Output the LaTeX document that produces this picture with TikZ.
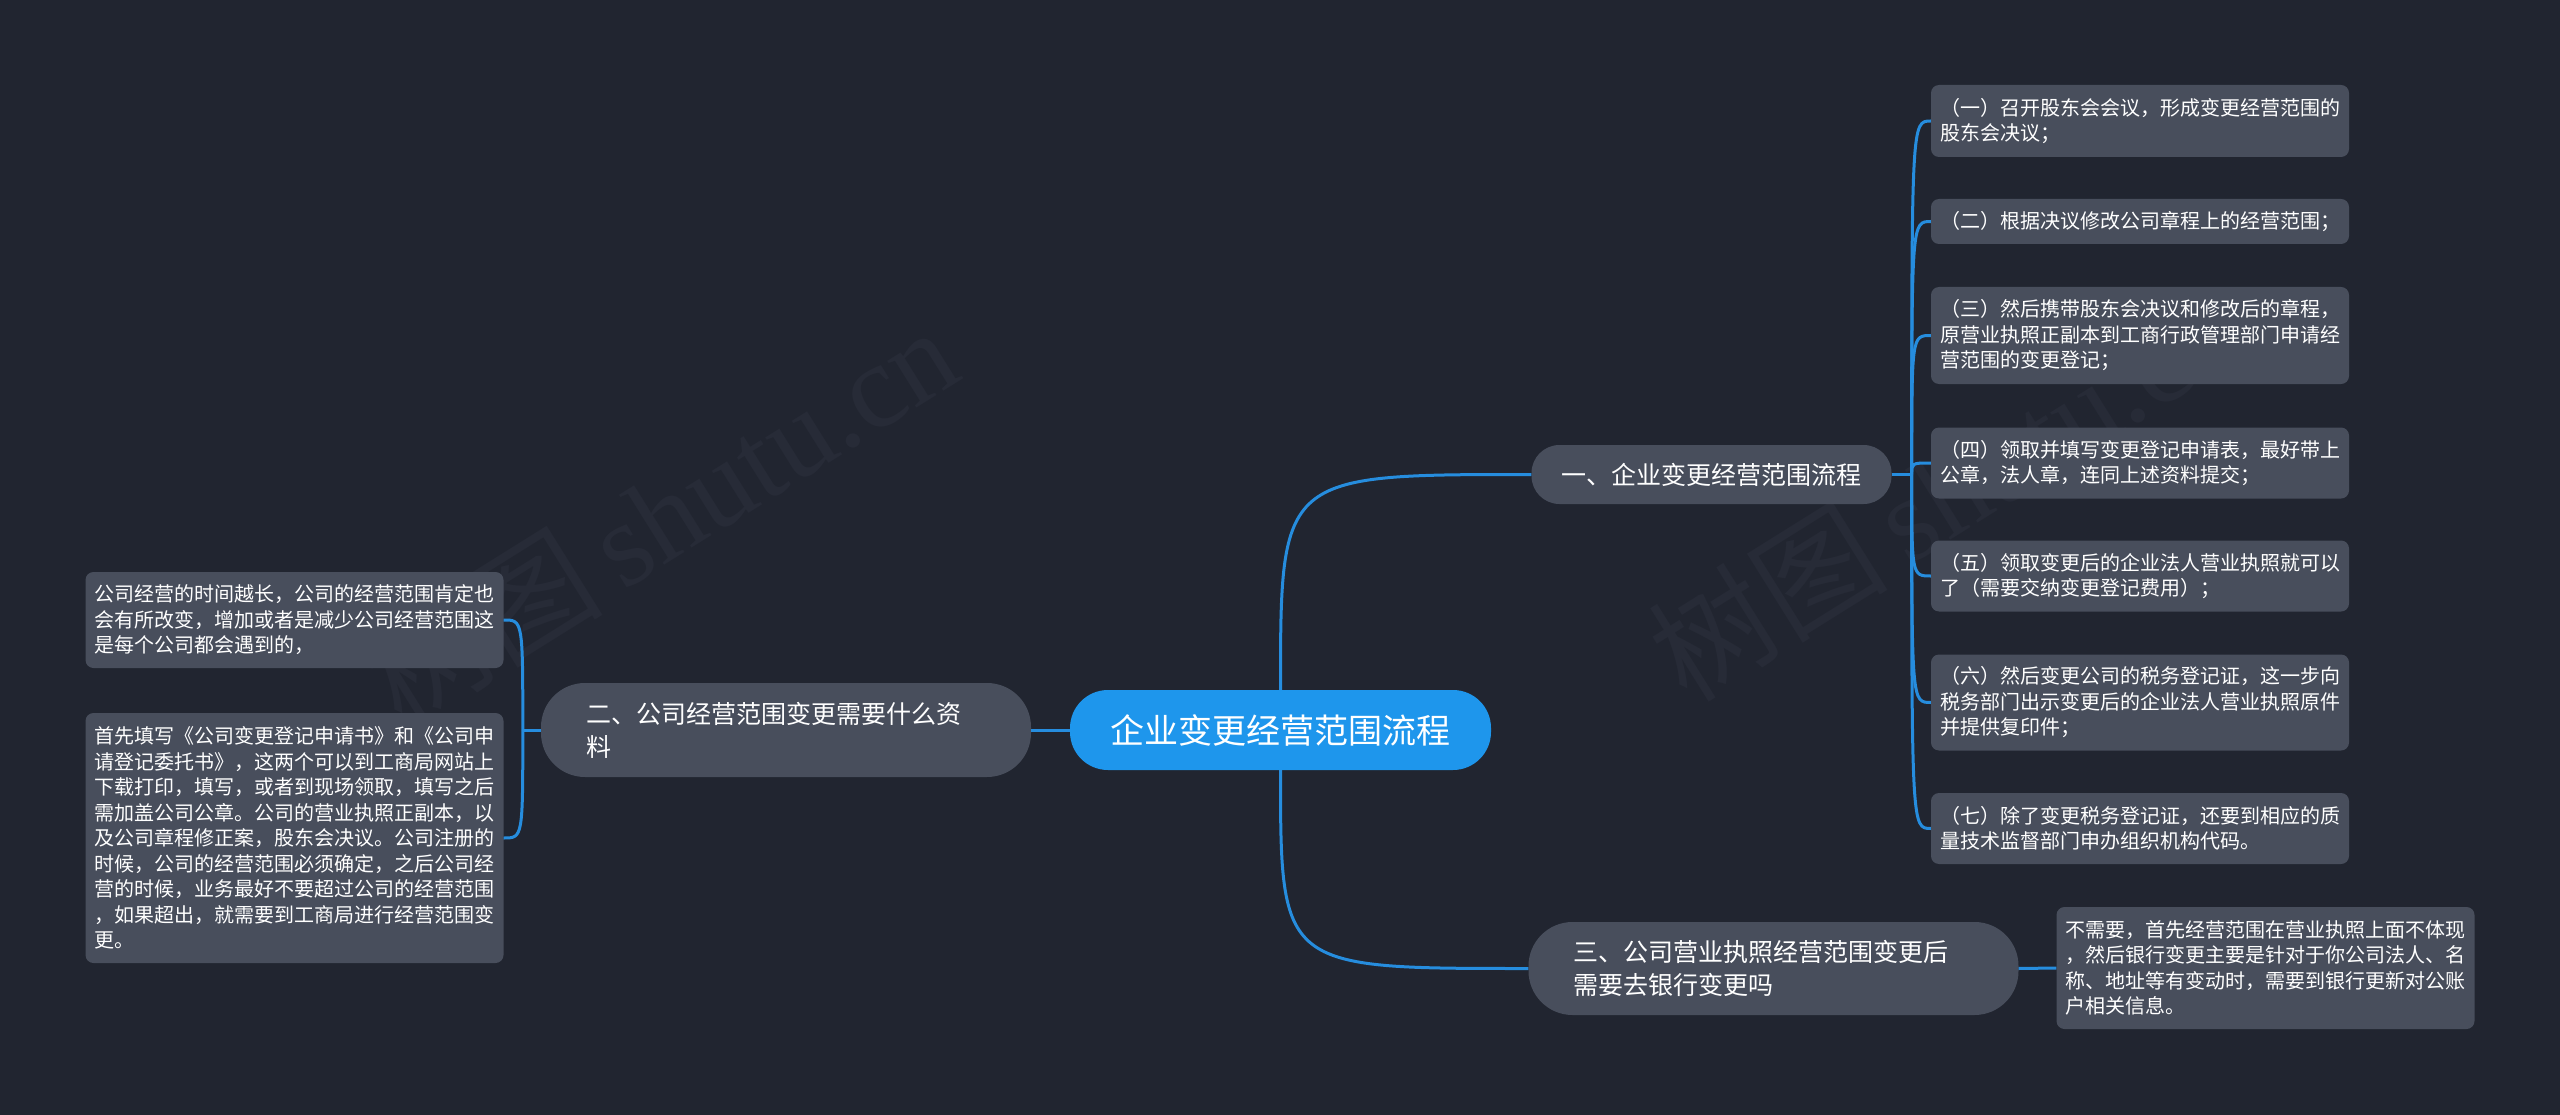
\documentclass[tikz,border=0pt]{standalone}
\usepackage{fontspec}
\setmainfont{Noto Sans CJK SC}
\newfontfamily\wmfont{Liberation Serif}
\usepackage{xcolor}

\definecolor{bgdark}{RGB}{33,37,48}
\definecolor{cardgray}{RGB}{72,78,92}
\definecolor{topicblue}{RGB}{30,150,236}
\definecolor{linkblue}{RGB}{38,141,222}
\definecolor{wmgray}{RGB}{39,43,55}

\begin{document}
\begin{tikzpicture}[x=1pt,y=-1pt,
  topic/.style={fill=topicblue, rounded corners=38pt, text=white, font=\fontsize{34}{40}\selectfont, minimum width=421pt, minimum height=80pt, inner sep=0pt},
  branch/.style={fill=cardgray, rounded corners=28pt, text=white, font=\fontsize{25}{33}\selectfont, inner xsep=45pt, inner ysep=0pt},
  leaf/.style={fill=cardgray, rounded corners=8pt, text=white, font=\fontsize{20}{25.5}\selectfont, text width=400pt, align=left, inner xsep=9pt, inner ysep=0pt},
  link/.style={draw=linkblue, line width=3pt},
  stamp/.style={text=wmgray, rotate=32, font=\fontsize{120}{120}\selectfont}]

% background and margins
\fill[bgdark] (0,0) rectangle (2560,1115);

% watermark
\node[stamp] (wmleft) at (660,515) {树图\,{\wmfont shutu.cn}};
\node[stamp] (wmright) at (1945,490) {树图\,{\wmfont shutu.cn}};

% centre topic
\node[topic] (topic) at (1280.5,730) {企业变更经营范围流程};

% main branches
\node[branch, inner xsep=30pt, minimum height=59pt] (flow) at (1711.5,474.5) {一、企业变更经营范围流程};
\node[branch, text width=400pt, align=left, minimum height=94pt, rounded corners=44pt] (docs) at (786,730) {二、公司经营范围变更需要什么资\\料};
\node[branch, text width=400pt, align=left, minimum height=93pt, rounded corners=44pt] (bank) at (1773.5,968.5) {三、公司营业执照经营范围变更后\\需要去银行变更吗};

% steps of the flow
\node[leaf, minimum height=72pt] (step1) at (2140,121) {（一）召开股东会会议，形成变更经营范围的\\股东会决议；};
\node[leaf, minimum height=45pt] (step2) at (2140,221.5) {（二）根据决议修改公司章程上的经营范围；};
\node[leaf, minimum height=97pt] (step3) at (2140,335.5) {（三）然后携带股东会决议和修改后的章程，\\原营业执照正副本到工商行政管理部门申请经\\营范围的变更登记；};
\node[leaf, minimum height=71pt] (step4) at (2140,463) {（四）领取并填写变更登记申请表，最好带上\\公章，法人章，连同上述资料提交；};
\node[leaf, minimum height=71pt] (step5) at (2140,576) {（五）领取变更后的企业法人营业执照就可以\\了（需要交纳变更登记费用）；};
\node[leaf, minimum height=96pt] (step6) at (2140,702.5) {（六）然后变更公司的税务登记证，这一步向\\税务部门出示变更后的企业法人营业执照原件\\并提供复印件；};
\node[leaf, minimum height=71pt] (step7) at (2140,828.5) {（七）除了变更税务登记证，还要到相应的质\\量技术监督部门申办组织机构代码。};

% notes on the documents
\node[leaf, minimum height=96pt] (note1) at (294.5,620) {公司经营的时间越长，公司的经营范围肯定也\\会有所改变，增加或者是减少公司经营范围这\\是每个公司都会遇到的，};
\node[leaf, minimum height=250pt] (note2) at (294.5,838) {首先填写《公司变更登记申请书》和《公司申\\请登记委托书》，这两个可以到工商局网站上\\下载打印，填写，或者到现场领取，填写之后\\需加盖公司公章。公司的营业执照正副本，以\\及公司章程修正案，股东会决议。公司注册的\\时候，公司的经营范围必须确定，之后公司经\\营的时候，业务最好不要超过公司的经营范围\\，如果超出，就需要到工商局进行经营范围变\\更。};

% answer about the bank
\node[leaf, minimum height=122pt] (answer) at (2265.5,968) {不需要，首先经营范围在营业执照上面不体现\\，然后银行变更主要是针对于你公司法人、名\\称、地址等有变动时，需要到银行更新对公账\\户相关信息。};

% connectors
\coordinate (fork) at ([xshift=20pt]flow.east);
\coordinate (join) at ([xshift=-18pt]docs.west);
\draw[link] (topic.north) .. controls (topic.north |- flow.west) .. (flow.west);
\draw[link] (topic.south) .. controls (topic.south |- bank.west) .. (bank.west);
\draw[link] (topic.west) -- (docs.east);
\draw[link] (flow.east) -- (fork);
\foreach \s in {step1,step2,step3,step4,step5,step6,step7}
  \draw[link] (fork) .. controls (fork |- \s.west) .. (\s.west);
\draw[link] (docs.west) -- (join);
\foreach \s in {note1,note2}
  \draw[link] (join) .. controls (join |- \s.east) .. (\s.east);
\draw[link] (bank.east) -- (answer.west);
\end{tikzpicture}
\end{document}
